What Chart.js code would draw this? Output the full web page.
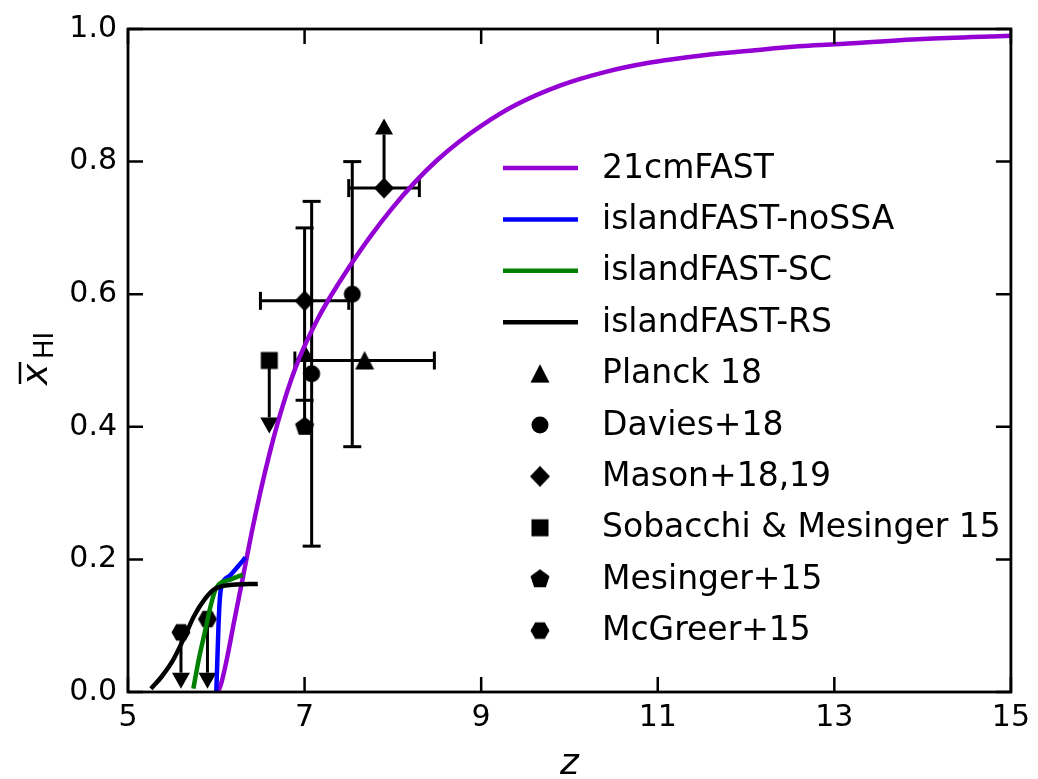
<!DOCTYPE html>
<html>
<head>
<meta charset="utf-8">
<script src="https://cdn.jsdelivr.net/npm/chart.js@4.4.0/dist/chart.umd.min.js"></script>
<style>
  html, body { margin: 0; padding: 0; background: #fff; }
</style>
</head>
<body>
<canvas id="xhiChart" width="1038" height="779"></canvas>
<script>
// model curves: redshift z vs mean neutral fraction
const z21cm = [6.02, 6.06, 6.12, 6.2, 6.3, 6.4, 6.5, 6.6, 6.7, 6.8, 6.9, 7.0, 7.15, 7.3, 7.5, 7.75, 8.0, 8.25, 8.5, 8.75, 9.0, 9.4, 9.9, 10.4, 10.9, 11.5, 12.1, 12.6, 13.0, 14.0, 15.0];
const xhi21cm = [0.0, 0.015, 0.05, 0.105, 0.172, 0.24, 0.302, 0.358, 0.408, 0.452, 0.49, 0.522, 0.563, 0.598, 0.64, 0.688, 0.731, 0.769, 0.802, 0.83, 0.854, 0.886, 0.915, 0.935, 0.949, 0.96, 0.968, 0.974, 0.977, 0.985, 0.99];

const zNoSSA = [6.0, 6.01, 6.025, 6.04, 6.06, 6.15, 6.25, 6.33];
const xhiNoSSA = [0.0, 0.04, 0.1, 0.14, 0.16, 0.175, 0.19, 0.203];

const zSC = [5.74, 5.8, 5.875, 5.94, 6.0, 6.17, 6.3];
const xhiSC = [0.005, 0.048, 0.093, 0.132, 0.157, 0.17, 0.177];

const zRS = [5.26, 5.38, 5.51, 5.64, 5.75, 5.87, 5.98, 6.13, 6.47];
const xhiRS = [0.005, 0.023, 0.048, 0.083, 0.115, 0.14, 0.155, 0.161, 0.163];

// observations
const planckZ = [7.68];
const planckX = [0.50];
const planckZerr = [0.79];

const daviesZ = [7.08, 7.54];
const daviesX = [0.48, 0.60];
const daviesLow = [0.22, 0.37];
const daviesHigh = [0.74, 0.80];

const masonZ = [7.0, 7.9];
const masonX = [0.59, 0.76];
const masonZerr = [0.5, 0.4];
const masonLow = [0.44, null];
const masonHigh = [0.70, null];
const masonArrowTip = [null, 0.865];

const sobacchiZ = [6.6];
const sobacchiX = [0.50];
const sobacchiArrowTip = [0.39];

const mesingerZ = [7.0];
const mesingerX = [0.40];
const mesingerArrowTip = [0.525];

const mcgreerZ = [5.6, 5.9];
const mcgreerX = [0.09, 0.11];
const mcgreerArrowTip = [0.005, 0.005];

const xTickValues = [5, 7, 9, 11, 13, 15];
const yTickValues = [0, 0.2, 0.4, 0.6, 0.8, 1.0];

const FONT = '"DejaVu Sans", sans-serif';
Chart.defaults.font.family = FONT;
Chart.defaults.color = '#000';

function toPoints(xs, ys) {
    return xs.map((v, i) => ({ x: v, y: ys[i] }));
}

function markerCanvas(shape) {
    const c = document.createElement('canvas');
    c.width = 26; c.height = 26;
    const g = c.getContext('2d');
    const cx = 13, cy = 13;
    g.fillStyle = '#000';
    g.beginPath();
    if (shape === 'circle') {
        g.arc(cx, cy, 8.5, 0, 2 * Math.PI);
    } else if (shape === 'triangle') {
        g.moveTo(cx, cy - 9.5); g.lineTo(cx + 9.5, cy + 9); g.lineTo(cx - 9.5, cy + 9);
    } else if (shape === 'diamond') {
        g.moveTo(cx, cy - 10.5); g.lineTo(cx + 10, cy); g.lineTo(cx, cy + 10.5); g.lineTo(cx - 10, cy);
    } else if (shape === 'square') {
        g.rect(cx - 8.5, cy - 8.5, 17, 17);
    } else {
        const n = shape === 'pentagon' ? 5 : 6;
        const start = shape === 'pentagon' ? -Math.PI / 2 : 0;
        const r = shape === 'pentagon' ? 10 : 9.5;
        for (let k = 0; k < n; k++) {
            const a = start + k * 2 * Math.PI / n;
            const px = cx + r * Math.cos(a), py = cy + r * Math.sin(a);
            if (k === 0) g.moveTo(px, py); else g.lineTo(px, py);
        }
    }
    g.closePath();
    g.fill();
    return c;
}

function lineSet(label, xs, ys, color, order) {
    return {
        label, data: toPoints(xs, ys), showLine: true, borderColor: color, backgroundColor: color,
        borderWidth: 4.5, pointRadius: 0, cubicInterpolationMode: 'monotone',
        borderJoinStyle: 'round', order
    };
}

function markerSet(label, xs, ys, shape) {
    return {
        label, data: toPoints(xs, ys), showLine: false, pointStyle: markerCanvas(shape),
        pointRadius: 9, borderColor: '#000', backgroundColor: '#000', order: 10
    };
}

// error bars and limit arrows, built from the arrays above
const errorItems = [];
planckZ.forEach((z, i) => errorItems.push({ z, y: planckX[i], zLo: z - planckZerr[i], zHi: z + planckZerr[i] }));
daviesZ.forEach((z, i) => errorItems.push({ z, y: daviesX[i], yLo: daviesLow[i], yHi: daviesHigh[i] }));
masonZ.forEach((z, i) => errorItems.push({ z, y: masonX[i], zLo: z - masonZerr[i], zHi: z + masonZerr[i], yLo: masonLow[i], yHi: masonHigh[i], tip: masonArrowTip[i] }));
sobacchiZ.forEach((z, i) => errorItems.push({ z, y: sobacchiX[i], tip: sobacchiArrowTip[i] }));
mesingerZ.forEach((z, i) => errorItems.push({ z, y: mesingerX[i], tip: mesingerArrowTip[i] }));
mcgreerZ.forEach((z, i) => errorItems.push({ z, y: mcgreerX[i], tip: mcgreerArrowTip[i] }));

const errorBarPlugin = {
    id: 'errorBars',
    beforeDatasetsDraw(chart) {
        const { ctx, scales: { x, y } } = chart;
        const cap = 9;
        ctx.save();
        ctx.strokeStyle = '#000';
        ctx.fillStyle = '#000';
        ctx.lineWidth = 3;
        const seg = (a, b, c, d) => { ctx.beginPath(); ctx.moveTo(a, b); ctx.lineTo(c, d); ctx.stroke(); };
        errorItems.forEach(e => {
            const px = x.getPixelForValue(e.z);
            const py = y.getPixelForValue(e.y);
            if (e.zLo != null) {
                const a = x.getPixelForValue(e.zLo), b = x.getPixelForValue(e.zHi);
                seg(a, py, b, py);
                seg(a, py - cap, a, py + cap);
                seg(b, py - cap, b, py + cap);
            }
            if (e.yLo != null) {
                const a = y.getPixelForValue(e.yLo), b = y.getPixelForValue(e.yHi);
                seg(px, a, px, b);
                seg(px - cap, a, px + cap, a);
                seg(px - cap, b, px + cap, b);
            }
            if (e.tip != null) {
                const t = y.getPixelForValue(e.tip);
                const dir = t < py ? 1 : -1;
                const head = 16;
                seg(px, py, px, t + dir * head);
                ctx.beginPath();
                ctx.moveTo(px, t);
                ctx.lineTo(px + 9, t + dir * head);
                ctx.lineTo(px - 9, t + dir * head);
                ctx.closePath();
                ctx.fill();
            }
        });
        ctx.restore();
    }
};

const framePlugin = {
    id: 'frame',
    afterDraw(chart) {
        const { ctx, chartArea: area, scales: { x, y } } = chart;
        const len = 15;
        ctx.save();
        ctx.strokeStyle = '#000';
        ctx.lineWidth = 2.8;
        ctx.strokeRect(area.left, area.top, area.right - area.left, area.bottom - area.top);
        ctx.lineWidth = 2.5;
        ctx.beginPath();
        x.ticks.forEach(t => {
            const px = x.getPixelForValue(t.value);
            ctx.moveTo(px, area.bottom); ctx.lineTo(px, area.bottom - len);
            ctx.moveTo(px, area.top); ctx.lineTo(px, area.top + len);
        });
        y.ticks.forEach(t => {
            const py = y.getPixelForValue(t.value);
            ctx.moveTo(area.left, py); ctx.lineTo(area.left + len, py);
            ctx.moveTo(area.right, py); ctx.lineTo(area.right - len, py);
        });
        ctx.stroke();

        // axis titles
        ctx.fillStyle = '#000';
        ctx.font = 'italic 36px ' + FONT;
        ctx.textAlign = 'center';
        ctx.textBaseline = 'alphabetic';
        ctx.fillText('z', (area.left + area.right) / 2, 774);

        ctx.translate(47, 385);
        ctx.rotate(-Math.PI / 2);
        ctx.textAlign = 'left';
        ctx.font = 'italic 36px ' + FONT;
        ctx.fillText('x', 0, 0);
        ctx.lineWidth = 2.5;
        ctx.beginPath();
        ctx.moveTo(1, -27); ctx.lineTo(23, -27);
        ctx.stroke();
        ctx.font = '26px ' + FONT;
        ctx.fillText('HI', 26, 6);
        ctx.restore();

        // legend
        const rowTop = 168, rowStep = 51.4;
        ctx.save();
        ctx.font = '33px ' + FONT;
        ctx.textBaseline = 'middle';
        ctx.textAlign = 'left';
        chart.data.datasets.forEach((ds, i) => {
            const ry = rowTop + i * rowStep;
            if (ds.showLine) {
                ctx.strokeStyle = ds.borderColor;
                ctx.lineWidth = 4.5;
                ctx.beginPath();
                ctx.moveTo(503, ry); ctx.lineTo(578, ry);
                ctx.stroke();
            } else {
                const img = ds.pointStyle;
                ctx.drawImage(img, 540 - img.width / 2, ry - img.height / 2);
            }
            ctx.fillStyle = '#000';
            ctx.fillText(ds.label, 602, ry + 1);
        });
        ctx.restore();
    }
};

new Chart(document.getElementById('xhiChart'), {
    type: 'scatter',
    data: {
        datasets: [
            lineSet('21cmFAST', z21cm, xhi21cm, '#9400d3', 3),
            lineSet('islandFAST-noSSA', zNoSSA, xhiNoSSA, '#0000ff', 2),
            lineSet('islandFAST-SC', zSC, xhiSC, '#008000', 1),
            lineSet('islandFAST-RS', zRS, xhiRS, '#000000', 0),
            markerSet('Planck 18', planckZ, planckX, 'triangle'),
            markerSet('Davies+18', daviesZ, daviesX, 'circle'),
            markerSet('Mason+18,19', masonZ, masonX, 'diamond'),
            markerSet('Sobacchi & Mesinger 15', sobacchiZ, sobacchiX, 'square'),
            markerSet('Mesinger+15', mesingerZ, mesingerX, 'pentagon'),
            markerSet('McGreer+15', mcgreerZ, mcgreerX, 'hexagon')
        ]
    },
    options: {
        responsive: false,
        animation: false,
        layout: { padding: { top: 22, right: 22, left: 0, bottom: 0 } },
        plugins: { legend: { display: false }, tooltip: { enabled: false } },
        scales: {
            x: {
                type: 'linear', min: 5, max: 15,
                afterBuildTicks: s => { s.ticks = xTickValues.map(v => ({ value: v })); },
                afterFit: s => { s.height = 87; },
                grid: { display: false, drawTicks: false },
                border: { display: false },
                ticks: { color: '#000', font: { size: 30 }, padding: 8, maxRotation: 0, autoSkip: false }
            },
            y: {
                type: 'linear', min: 0, max: 1,
                afterBuildTicks: s => { s.ticks = yTickValues.map(v => ({ value: v })); },
                afterFit: s => { s.width = 128; },
                grid: { display: false, drawTicks: false },
                border: { display: false },
                ticks: { color: '#000', font: { size: 30 }, padding: 11, autoSkip: false,
                         callback: v => Number(v).toFixed(1) }
            }
        }
    },
    plugins: [errorBarPlugin, framePlugin]
});
</script>
</body>
</html>
